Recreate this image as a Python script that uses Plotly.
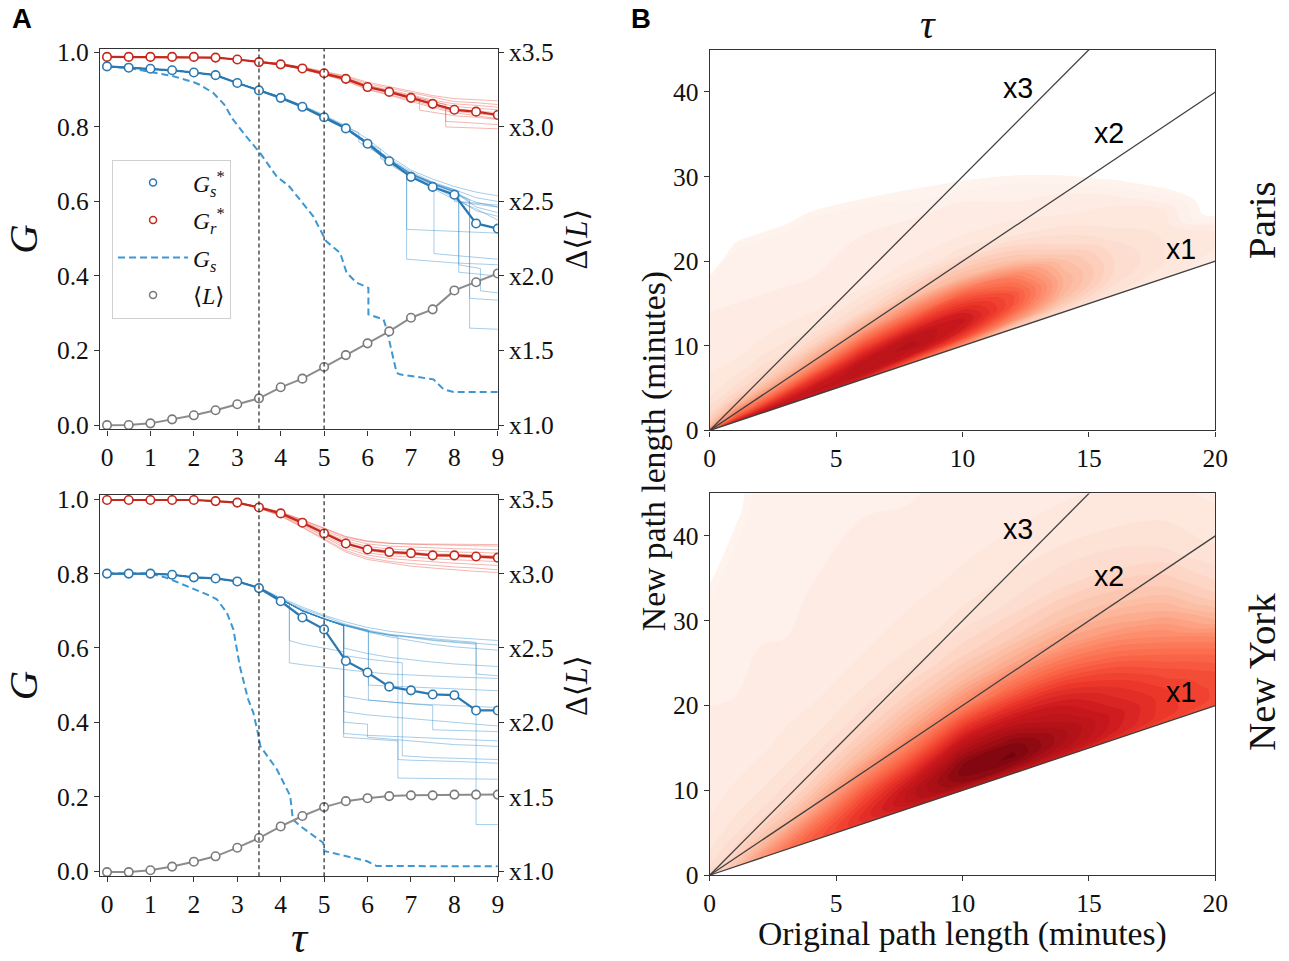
import plotly.graph_objects as go

SERIF = "Liberation Serif, DejaVu Serif, serif"
SANS = "Liberation Sans, Arial, sans-serif"

# ---------------------------------------------------------------- panel A data
TAU = [0, 0.5, 1, 1.5, 2, 2.5, 3, 3.5, 4, 4.5, 5, 5.5, 6, 6.5, 7, 7.5, 8, 8.5, 9]
T = [3, 3.5, 4, 4.5, 5, 5.5, 6, 6.5, 7, 7.5, 8, 8.5, 9]          # tail grid of the runs
TAU_THRESHOLDS = [3.5, 5]
TAU_TICKS = [0, 1, 2, 3, 4, 5, 6, 7, 8, 9]
G_TICKS = [0, 0.2, 0.4, 0.6, 0.8, 1.0]
L_TICKS = [1.0, 1.5, 2.0, 2.5, 3.0, 3.5]
L_TICKTEXT = ["x1.0", "x1.5", "x2.0", "x2.5", "x3.0", "x3.5"]

# Paris (top)
paris_gs_star = [0.9625, 0.959, 0.956, 0.952, 0.946, 0.939, 0.918, 0.898, 0.878, 0.854,
                 0.826, 0.796, 0.755, 0.708, 0.666, 0.639, 0.618, 0.541, 0.527]
paris_gr_star = [0.988, 0.988, 0.988, 0.988, 0.988, 0.986, 0.981, 0.974, 0.968, 0.957,
                 0.944, 0.929, 0.907, 0.894, 0.878, 0.862, 0.846, 0.841, 0.832]
paris_L = [0.999, 1.0, 1.011, 1.038, 1.065, 1.099, 1.139, 1.179, 1.253, 1.311,
           1.389, 1.469, 1.548, 1.628, 1.72, 1.776, 1.903, 1.958, 2.017]
paris_gs_tau = [0, 0.5, 0.76, 1.0, 1.53, 2.0, 2.14, 2.45, 2.7, 2.9, 3.2, 3.52, 3.9, 4.2, 4.45,
                4.75, 5.05, 5.37, 5.52, 5.75, 6.02, 6.02, 6.37, 6.44, 6.67, 6.74, 7.52, 7.75, 7.98, 9.0]
paris_gs = [0.9625, 0.958, 0.953, 0.948, 0.936, 0.92, 0.913, 0.891, 0.86, 0.82, 0.775, 0.731, 0.668,
            0.64, 0.605, 0.56, 0.493, 0.462, 0.408, 0.382, 0.368, 0.297, 0.283, 0.257, 0.14, 0.136,
            0.1225, 0.096, 0.0886, 0.0886]

paris_blue_runs = [
    (T, [0.918, 0.899, 0.881, 0.858, 0.832, 0.803, 0.768, 0.722, 0.684, 0.66, 0.64, 0.625, 0.615]),
    (T, [0.918, 0.898, 0.879, 0.856, 0.829, 0.80, 0.76, 0.715, 0.68, 0.652, 0.632, 0.61, 0.60]),
    (T, [0.918, 0.897, 0.877, 0.853, 0.826, 0.795, 0.752, 0.705, 0.672, 0.645, 0.62, 0.598, 0.585]),
    ([3, 3.5, 4, 4.5, 5, 5.5, 5.8, 5.8, 6.5, 7, 7.5, 8, 8, 9],
     [0.918, 0.899, 0.88, 0.857, 0.83, 0.80, 0.785, 0.76, 0.71, 0.675, 0.65, 0.63, 0.60, 0.585]),
    (T, [0.918, 0.899, 0.88, 0.856, 0.828, 0.798, 0.758, 0.712, 0.676, 0.648, 0.625, 0.585, 0.57]),
    (T, [0.918, 0.898, 0.878, 0.855, 0.827, 0.797, 0.756, 0.708, 0.67, 0.64, 0.61, 0.575, 0.56]),
    (T, [0.918, 0.897, 0.876, 0.852, 0.824, 0.794, 0.753, 0.70, 0.665, 0.635, 0.605, 0.58, 0.55]),
    ([3, 3.5, 4, 4.5, 5, 5.5, 6, 6.3, 6.3, 7, 7.5, 8.1, 8.1, 9],
     [0.918, 0.898, 0.878, 0.854, 0.826, 0.797, 0.757, 0.74, 0.715, 0.672, 0.645, 0.625, 0.60, 0.59]),
    ([3, 3.5, 4, 4.5, 5, 5.5, 6, 6.5, 6.9, 6.9, 7.5, 8, 9],
     [0.918, 0.898, 0.879, 0.855, 0.828, 0.798, 0.758, 0.712, 0.675, 0.445, 0.44, 0.435, 0.43]),
    ([3, 3.5, 4, 4.5, 5, 5.5, 6, 6.5, 7, 7.53, 7.53, 8, 9],
     [0.918, 0.898, 0.879, 0.855, 0.828, 0.798, 0.758, 0.712, 0.674, 0.65, 0.46, 0.455, 0.445]),
    ([3, 3.5, 4, 4.5, 5, 5.5, 6, 6.5, 7, 7.5, 8.1, 8.1, 9],
     [0.918, 0.898, 0.879, 0.855, 0.828, 0.798, 0.758, 0.712, 0.674, 0.648, 0.628, 0.41, 0.40]),
    ([3, 3.5, 4, 4.5, 5, 5.5, 6, 6.5, 7, 7.5, 8, 8.35, 8.35, 9],
     [0.918, 0.898, 0.879, 0.855, 0.828, 0.798, 0.758, 0.712, 0.674, 0.648, 0.626, 0.605, 0.26, 0.257]),
    ([3, 3.5, 4, 4.5, 5, 5.5, 6, 6.5, 7, 7.5, 8, 8.35, 8.35, 9],
     [0.918, 0.898, 0.879, 0.855, 0.828, 0.798, 0.758, 0.712, 0.674, 0.648, 0.626, 0.60, 0.34, 0.335]),
    ([3, 3.5, 4, 4.5, 5, 5.5, 6, 6.5, 7, 7.5, 8.1, 8.1, 8.6, 8.6, 9],
     [0.918, 0.898, 0.879, 0.855, 0.828, 0.798, 0.758, 0.712, 0.674, 0.648, 0.62, 0.43, 0.42, 0.36, 0.355]),
    ([3, 3.5, 4, 4.5, 5, 5.5, 6, 6.5, 6.9, 6.9, 8, 9],
     [0.918, 0.898, 0.879, 0.855, 0.828, 0.798, 0.758, 0.712, 0.675, 0.525, 0.52, 0.515]),
]
paris_red_runs = [
    (T, [0.981, 0.975, 0.97, 0.96, 0.948, 0.935, 0.916, 0.904, 0.89, 0.878, 0.868, 0.865, 0.86]),
    (T, [0.981, 0.975, 0.969, 0.959, 0.946, 0.932, 0.912, 0.90, 0.886, 0.872, 0.862, 0.858, 0.853]),
    (T, [0.981, 0.974, 0.968, 0.958, 0.945, 0.93, 0.909, 0.896, 0.882, 0.868, 0.855, 0.85, 0.846]),
    (T, [0.981, 0.974, 0.967, 0.956, 0.943, 0.927, 0.905, 0.891, 0.876, 0.86, 0.848, 0.843, 0.838]),
    (T, [0.981, 0.973, 0.966, 0.955, 0.941, 0.925, 0.902, 0.888, 0.872, 0.856, 0.842, 0.836, 0.83]),
    (T, [0.981, 0.973, 0.966, 0.954, 0.94, 0.923, 0.90, 0.885, 0.868, 0.852, 0.838, 0.83, 0.822]),
    (T, [0.981, 0.975, 0.97, 0.961, 0.95, 0.937, 0.92, 0.908, 0.895, 0.884, 0.876, 0.873, 0.87]),
    ([3, 3.5, 4, 4.5, 5, 5.5, 6, 6.5, 7, 7.5, 7.8, 7.8, 8.5, 9],
     [0.981, 0.974, 0.968, 0.957, 0.944, 0.929, 0.907, 0.894, 0.878, 0.862, 0.855, 0.815, 0.81, 0.806]),
    ([3, 3.5, 4, 4.5, 5, 5.5, 6, 6.5, 7, 7.5, 7.8, 7.8, 8.5, 9],
     [0.981, 0.975, 0.969, 0.958, 0.946, 0.932, 0.911, 0.898, 0.883, 0.868, 0.86, 0.80, 0.797, 0.795]),
    ([3, 3.5, 4, 4.5, 5, 5.5, 6, 6.5, 7, 7.2, 7.2, 7.5, 8, 8.5, 9],
     [0.981, 0.974, 0.968, 0.957, 0.944, 0.929, 0.907, 0.894, 0.88, 0.875, 0.845, 0.84, 0.83, 0.826, 0.82]),
]

# New York (bottom)
ny_gs_star = [0.80, 0.80, 0.80, 0.797, 0.79, 0.787, 0.779, 0.761, 0.7256, 0.682,
              0.65, 0.565, 0.534, 0.496, 0.486, 0.475, 0.473, 0.432, 0.432]
ny_gr_star = [0.998, 0.998, 0.998, 0.998, 0.998, 0.995, 0.991, 0.978, 0.962, 0.937,
              0.908, 0.881, 0.865, 0.858, 0.855, 0.849, 0.849, 0.846, 0.843]
ny_L = [0.993, 0.993, 1.005, 1.03, 1.063, 1.099, 1.157, 1.222, 1.30, 1.37,
        1.43, 1.47, 1.49, 1.504, 1.509, 1.509, 1.514, 1.514, 1.514]
ny_gs_tau = [0, 0.5, 1.0, 1.37, 1.84, 2.3, 2.53, 2.76, 2.91, 3.06, 3.25, 3.37, 3.49, 3.53, 3.91,
             4.22, 4.28, 4.45, 4.98, 5.0, 5.98, 6.21, 9.0]
ny_gs = [0.80, 0.80, 0.80, 0.789, 0.767, 0.744, 0.731, 0.695, 0.65, 0.55, 0.462, 0.426, 0.363, 0.336,
         0.274, 0.202, 0.139, 0.121, 0.076, 0.054, 0.027, 0.0135, 0.0128]

ny_blue_runs = [
    (T, [0.779, 0.764, 0.735, 0.71, 0.688, 0.67, 0.655, 0.645, 0.638, 0.632, 0.628, 0.624, 0.62]),
    (T, [0.779, 0.763, 0.732, 0.706, 0.684, 0.664, 0.648, 0.637, 0.63, 0.622, 0.617, 0.612, 0.608]),
    (T, [0.779, 0.763, 0.731, 0.703, 0.68, 0.66, 0.643, 0.63, 0.62, 0.61, 0.603, 0.598, 0.594]),
    ([3, 3.5, 4, 4.5, 5, 5.45, 5.45, 6, 6.5, 7, 7.5, 8, 8.5, 9],
     [0.779, 0.762, 0.73, 0.70, 0.678, 0.66, 0.60, 0.585, 0.575, 0.568, 0.562, 0.557, 0.553, 0.55]),
    ([3, 3.5, 4, 4.2, 4.2, 4.5, 5, 5.5, 6, 6.5, 7, 7.5, 8, 8.5, 9],
     [0.779, 0.762, 0.728, 0.72, 0.56, 0.555, 0.548, 0.54, 0.535, 0.53, 0.527, 0.524, 0.522, 0.52, 0.518]),
    ([3, 3.5, 4, 4.5, 5, 5.45, 5.45, 6, 6, 6.5, 7, 7.5, 8, 8.5, 9],
     [0.779, 0.762, 0.73, 0.70, 0.678, 0.66, 0.40, 0.395, 0.36, 0.355, 0.35, 0.345, 0.34, 0.338, 0.335]),
    ([3, 3.5, 4, 4.5, 5, 5.45, 5.45, 5.5, 6, 6.5, 7, 7.5, 8, 8.5, 9],
     [0.779, 0.762, 0.73, 0.70, 0.678, 0.66, 0.43, 0.428, 0.42, 0.415, 0.41, 0.405, 0.40, 0.395, 0.39]),
    ([3, 3.5, 4, 4.5, 5, 5.45, 5.45, 6, 6.7, 6.7, 7, 8, 9],
     [0.779, 0.762, 0.73, 0.70, 0.678, 0.66, 0.36, 0.355, 0.35, 0.30, 0.298, 0.295, 0.29]),
    ([3, 3.5, 4, 4.5, 5, 5.5, 6.02, 6.02, 6.5, 7, 8, 9],
     [0.779, 0.762, 0.73, 0.70, 0.678, 0.662, 0.648, 0.46, 0.455, 0.45, 0.445, 0.44]),
    ([3, 3.5, 4, 4.5, 5, 5.5, 6, 6.5, 6.7, 6.7, 8, 9],
     [0.779, 0.762, 0.73, 0.70, 0.678, 0.66, 0.645, 0.635, 0.63, 0.25, 0.248, 0.247]),
    ([3, 3.5, 4, 4.5, 5, 5.5, 6, 6.5, 7, 7.5, 8, 8.5, 8.5, 9],
     [0.779, 0.762, 0.73, 0.70, 0.678, 0.66, 0.645, 0.635, 0.63, 0.625, 0.62, 0.615, 0.125, 0.125]),
    ([3, 3.5, 4, 4.2, 4.2, 4.5, 5, 5.45, 5.45, 6, 7, 8, 9],
     [0.779, 0.762, 0.728, 0.72, 0.62, 0.61, 0.60, 0.59, 0.37, 0.365, 0.36, 0.355, 0.35]),
    ([3, 3.5, 4, 4.5, 5, 5.5, 6, 6.02, 6.02, 7, 8, 9],
     [0.779, 0.762, 0.73, 0.70, 0.678, 0.66, 0.648, 0.645, 0.50, 0.495, 0.49, 0.485]),
    ([3, 3.5, 4, 4.5, 5, 5.45, 5.45, 6, 6.8, 6.8, 7.5, 9],
     [0.779, 0.762, 0.73, 0.70, 0.678, 0.66, 0.58, 0.57, 0.56, 0.31, 0.305, 0.30]),
    ([3, 3.5, 4, 4.5, 5, 5.5, 6, 6.5, 7, 7.5, 8, 8.5, 8.5, 9],
     [0.779, 0.762, 0.73, 0.70, 0.678, 0.66, 0.645, 0.635, 0.628, 0.62, 0.615, 0.61, 0.53, 0.525]),
    ([3, 3.5, 4, 4.5, 5, 5.45, 5.45, 6, 7, 7.5, 7.5, 9],
     [0.779, 0.762, 0.73, 0.70, 0.678, 0.66, 0.47, 0.46, 0.45, 0.445, 0.38, 0.375]),
]
ny_red_runs = [
    (T, [0.991, 0.98, 0.966, 0.945, 0.922, 0.90, 0.888, 0.882, 0.879, 0.877, 0.876, 0.875, 0.874]),
    (T, [0.991, 0.979, 0.964, 0.942, 0.916, 0.894, 0.88, 0.874, 0.871, 0.868, 0.867, 0.866, 0.864]),
    (T, [0.991, 0.979, 0.963, 0.94, 0.912, 0.888, 0.873, 0.866, 0.863, 0.86, 0.858, 0.857, 0.855]),
    (T, [0.991, 0.978, 0.961, 0.936, 0.906, 0.879, 0.862, 0.854, 0.851, 0.847, 0.845, 0.843, 0.84]),
    (T, [0.991, 0.977, 0.96, 0.933, 0.902, 0.874, 0.856, 0.848, 0.844, 0.84, 0.837, 0.835, 0.832]),
    (T, [0.991, 0.977, 0.958, 0.93, 0.898, 0.868, 0.85, 0.841, 0.836, 0.831, 0.828, 0.825, 0.822]),
    (T, [0.991, 0.976, 0.956, 0.926, 0.893, 0.862, 0.843, 0.833, 0.827, 0.822, 0.818, 0.815, 0.81]),
    (T, [0.991, 0.976, 0.955, 0.924, 0.89, 0.858, 0.838, 0.828, 0.82, 0.815, 0.81, 0.806, 0.803]),
    (T, [0.991, 0.98, 0.965, 0.944, 0.92, 0.898, 0.886, 0.881, 0.88, 0.879, 0.879, 0.878, 0.878]),
    (T, [0.991, 0.978, 0.962, 0.938, 0.91, 0.884, 0.868, 0.861, 0.857, 0.853, 0.852, 0.85, 0.848]),
]

# ---------------------------------------------------------------- panel B data
# density level (0 = no trips), tabulated by original
# length (one list per length) and by extra minutes over the original length
LEN_TICKS = [0, 5, 10, 15, 20]
NEW_TICKS = [0, 10, 20, 30, 40]
RATIOS = [1, 2, 3]
RATIO_LABELS = ["x1", "x2", "x3"]
paris_label_x = [18.65, 15.8, 12.2]
paris_label_y = [21.4, 35.2, 40.5]
ny_label_x = [18.65, 15.8, 12.2]
ny_label_y = [21.6, 35.3, 40.8]

paris_len = [0, 1, 2, 3, 4, 6, 8, 10, 12, 14, 16, 18, 20]
paris_extra = [0, 0.5, 1, 2, 3, 4, 6, 8, 11, 14, 17, 20, 23]
paris_density = [
    [5.0, 3.0, 2.5, 2.0, 1.7, 1.5, 1.3, 1.15, 1.05, 1.0, 0.9, 0.0, 0.0],
    [7.0, 5.5, 4.5, 3.0, 2.2, 1.8, 1.4, 1.2, 1.05, 1.0, 1.0, 0.8, 0.0],
    [7.5, 6.5, 5.5, 4.0, 2.9, 2.2, 1.6, 1.3, 1.1, 1.0, 1.0, 0.9, 0.0],
    [7.5, 7.0, 6.5, 5.0, 3.7, 2.8, 1.8, 1.4, 1.1, 1.0, 1.0, 0.9, 0.0],
    [7.0, 7.3, 7.0, 6.0, 4.7, 3.6, 2.2, 1.5, 1.1, 1.0, 1.0, 1.0, 0.2],
    [6.5, 7.2, 7.5, 7.3, 6.5, 5.5, 3.4, 2.0, 1.2, 1.05, 1.0, 0.9, 0.0],
    [5.0, 6.0, 7.0, 7.6, 7.4, 6.5, 4.5, 2.7, 1.4, 1.05, 1.0, 0.6, 0.0],
    [3.8, 4.8, 5.8, 6.8, 7.1, 6.7, 5.2, 3.1, 1.6, 1.1, 1.0, 0.4, 0.0],
    [2.5, 3.0, 4.0, 5.0, 5.5, 5.5, 4.5, 2.8, 1.5, 1.1, 0.8, 0.0, 0.0],
    [1.9, 2.1, 2.5, 3.0, 3.2, 3.2, 2.8, 2.0, 1.3, 1.0, 0.3, 0.0, 0.0],
    [1.5, 1.6, 1.7, 1.9, 2.0, 2.0, 1.8, 1.5, 1.2, 0.4, 0.0, 0.0, 0.0],
    [1.3, 1.3, 1.4, 1.5, 1.5, 1.5, 1.4, 1.25, 0.4, 0.0, 0.0, 0.0, 0.0],
    [1.2, 1.2, 1.2, 1.3, 1.3, 1.2, 0.2, 0.0, 0.0, 0.0, 0.0, 0.0, 0.0],
]

ny_len = [0, 1, 2, 3, 4, 6, 8, 10, 12, 14, 16, 18, 20]
ny_extra = [0, 0.5, 1, 2, 3, 4, 6, 8, 10, 13, 16, 20, 25, 30, 36, 42, 48]
ny_density = [
    [2.0, 2.0, 1.8, 1.6, 1.5, 1.4, 1.3, 1.2, 1.15, 1.1, 1.05, 1.0, 1.0, 1.0, 0.3, 0.0, 0.0],
    [2.8, 2.6, 2.4, 2.1, 1.9, 1.7, 1.5, 1.35, 1.25, 1.15, 1.1, 1.0, 1.0, 1.0, 0.9, 0.3, 0.0],
    [3.8, 3.6, 3.3, 2.8, 2.4, 2.1, 1.7, 1.5, 1.35, 1.2, 1.1, 1.05, 1.0, 1.0, 1.0, 1.0, 1.0],
    [4.7, 4.5, 4.2, 3.6, 3.0, 2.6, 2.0, 1.7, 1.5, 1.3, 1.2, 1.1, 1.0, 1.0, 1.0, 1.0, 1.0],
    [5.3, 5.2, 5.0, 4.5, 3.9, 3.3, 2.5, 2.0, 1.7, 1.4, 1.25, 1.1, 1.05, 1.0, 1.0, 1.0, 1.0],
    [6.2, 6.3, 6.3, 6.0, 5.6, 5.1, 4.0, 3.0, 2.4, 1.8, 1.5, 1.25, 1.1, 1.05, 1.0, 1.0, 1.0],
    [6.8, 7.2, 7.4, 7.4, 7.0, 6.5, 5.3, 4.2, 3.3, 2.4, 1.8, 1.4, 1.2, 1.1, 1.0, 1.0, 1.0],
    [7.0, 7.8, 8.3, 8.6, 8.5, 8.1, 7.0, 5.7, 4.3, 3.0, 2.2, 1.6, 1.3, 1.15, 1.05, 1.0, 1.0],
    [7.0, 7.8, 8.3, 8.8, 8.7, 8.3, 7.3, 6.2, 5.0, 3.5, 2.5, 1.8, 1.4, 1.2, 1.1, 1.0, 1.0],
    [6.8, 7.3, 7.6, 7.8, 7.8, 7.5, 7.0, 6.2, 5.2, 3.8, 2.8, 2.0, 1.5, 1.25, 1.1, 1.0, 1.0],
    [6.3, 6.6, 6.8, 6.9, 6.9, 6.7, 6.3, 5.7, 4.9, 3.7, 2.8, 2.0, 1.5, 1.25, 1.1, 1.0, 1.0],
    [5.8, 6.0, 6.1, 6.1, 6.1, 6.0, 5.6, 5.0, 4.3, 3.3, 2.5, 1.8, 1.4, 1.2, 1.1, 1.0, 1.0],
    [5.5, 5.6, 5.7, 5.7, 5.6, 5.5, 5.0, 4.3, 3.3, 2.3, 1.8, 1.4, 1.2, 1.1, 1.05, 1.0, 1.0],
]

# ---------------------------------------------------------------- styles
BLUE = "#2c78b0"
BLUE_DASH = "#3d97d3"
BLUE_RUN = "rgba(45,135,200,0.42)"
RED = "#c3291d"
RED_RUN = "rgba(228,62,50,0.38)"
GREY = "#8c8c8c"
AX = "#333333"

C_START, C_END, C_SIZE = 0.5, 9.0, 0.25
C_LO, C_HI = C_START - C_SIZE / 2, C_END + C_SIZE / 2
DENS_LEVELS = [C_LO, 0.5, 0.6, 1, 2, 3, 4, 5, 6, 7, 8, C_HI]
DENS_COLORS = ["#ffffff", "#ffffff", "rgb(254,243,237)", "rgb(254,239,232)", "rgb(253,218,203)",
               "rgb(252,187,161)", "rgb(252,146,114)", "rgb(251,106,74)", "rgb(239,59,44)",
               "rgb(203,24,29)", "rgb(165,15,21)", "rgb(103,0,13)"]
COLORSCALE = [[(lv - C_LO) / (C_HI - C_LO), c] for lv, c in zip(DENS_LEVELS, DENS_COLORS)]

# page geometry: figure inside the body's 8px margin; the capture comes out
# slightly shrunk, so target pixel positions are mapped back to figure space
W, H, PAD = 1300, 980, 8
SX, SY, OX, OY = 0.986, 0.975, -2.0, 2.5
FS = 1.02   # font compensation for the shrink


def fx(px):
    return ((px - OX) / SX - PAD) / W


def fy(py):
    return 1 - ((py - OY) / SY - PAD) / H


def fs(size):
    return round(size * FS, 1)


fig = go.Figure()

# ---------------------------------------------------------------- panel B traces
hidden_carpet_axis = dict(showgrid=False, showline=False, showticklabels="none", startline=False,
                          endline=False, minorgridcount=0, smoothing=0,
                          color="rgba(0,0,0,0)", gridcolor="rgba(0,0,0,0)")


def add_density(lengths, extras, density, cid, xa, ya):
    a_f, b_f, x_f, y_f, z_f = [], [], [], [], []
    for j, e in enumerate(extras):
        for i, ln in enumerate(lengths):
            a_f.append(ln)
            b_f.append(e)
            x_f.append(ln)
            y_f.append(ln + e)
            z_f.append(density[i][j])
    fig.add_trace(go.Carpet(a=a_f, b=b_f, x=x_f, y=y_f, carpet=cid, xaxis=xa, yaxis=ya,
                            aaxis=hidden_carpet_axis, baxis=hidden_carpet_axis))
    fig.add_trace(go.Contourcarpet(a=a_f, b=b_f, z=z_f, carpet=cid, xaxis=xa, yaxis=ya,
                                   autocontour=False,
                                   contours=dict(start=C_START, end=C_END, size=C_SIZE,
                                                 coloring="fill", showlines=False),
                                   line=dict(width=0), colorscale=COLORSCALE,
                                   showscale=False))


add_density(paris_len, paris_extra, paris_density, "paris", "x3", "y5")
add_density(ny_len, ny_extra, ny_density, "ny", "x4", "y6")

for xa, ya in [("x3", "y5"), ("x4", "y6")]:
    for k in RATIOS:
        fig.add_trace(go.Scatter(x=[0, LEN_TICKS[-1]], y=[0, k * LEN_TICKS[-1]], mode="lines",
                                 line=dict(color="#404040", width=1.3), xaxis=xa, yaxis=ya,
                                 showlegend=False, hoverinfo="skip"))

# ---------------------------------------------------------------- panel A traces
def add_left(xa, ya, ya2, gs_star, gr_star, L, gs_tau, gs, blue_runs, red_runs):
    for t, g in blue_runs:
        fig.add_trace(go.Scatter(x=TAU[:6] + list(t), y=gs_star[:6] + list(g), mode="lines",
                                 line=dict(color=BLUE_RUN, width=1), xaxis=xa, yaxis=ya,
                                 showlegend=False, hoverinfo="skip"))
    for t, g in red_runs:
        fig.add_trace(go.Scatter(x=TAU[:6] + list(t), y=gr_star[:6] + list(g), mode="lines",
                                 line=dict(color=RED_RUN, width=1), xaxis=xa, yaxis=ya,
                                 showlegend=False, hoverinfo="skip"))
    fig.add_trace(go.Scatter(x=gs_tau, y=gs, mode="lines",
                             line=dict(color=BLUE_DASH, width=2, dash="7px,4px"),
                             xaxis=xa, yaxis=ya, showlegend=False))
    fig.add_trace(go.Scatter(x=TAU, y=gs_star, mode="lines+markers",
                             line=dict(color=BLUE, width=2.2),
                             marker=dict(size=8.5, color="white", line=dict(color=BLUE, width=1.6)),
                             xaxis=xa, yaxis=ya, showlegend=False))
    fig.add_trace(go.Scatter(x=TAU, y=gr_star, mode="lines+markers",
                             line=dict(color=RED, width=2.2),
                             marker=dict(size=8.5, color="white", line=dict(color=RED, width=1.6)),
                             xaxis=xa, yaxis=ya, showlegend=False))
    fig.add_trace(go.Scatter(x=TAU, y=L, mode="lines+markers",
                             line=dict(color=GREY, width=2),
                             marker=dict(size=8.5, color="white", line=dict(color="#7a7a7a", width=1.6)),
                             xaxis=xa, yaxis=ya2, showlegend=False))


add_left("x", "y", "y2", paris_gs_star, paris_gr_star, paris_L, paris_gs_tau, paris_gs,
         paris_blue_runs, paris_red_runs)
add_left("x2", "y3", "y4", ny_gs_star, ny_gr_star, ny_L, ny_gs_tau, ny_gs,
         ny_blue_runs, ny_red_runs)

# legend entries
fig.add_trace(go.Scatter(x=[None], y=[None], mode="markers", name="<i>G</i><sub><i>s</i></sub><sup>*</sup>",
                         legendgroup="a",
                         marker=dict(size=7, color="white", line=dict(color=BLUE, width=1.5)),
                         xaxis="x", yaxis="y"))
fig.add_trace(go.Scatter(x=[None], y=[None], mode="markers", name="<i>G</i><sub><i>r</i></sub><sup>*</sup>",
                         legendgroup="b",
                         marker=dict(size=7, color="white", line=dict(color=RED, width=1.5)),
                         xaxis="x", yaxis="y"))
fig.add_trace(go.Scatter(x=[None], y=[None], mode="lines", name="<i>G</i><sub><i>s</i></sub>",
                         legendgroup="c",
                         line=dict(color=BLUE_DASH, width=2, dash="7px,4px"),
                         xaxis="x", yaxis="y"))
fig.add_trace(go.Scatter(x=[None], y=[None], mode="markers", name="⟨<i>L</i>⟩",
                         legendgroup="d",
                         marker=dict(size=7, color="white", line=dict(color="#7a7a7a", width=1.5)),
                         xaxis="x", yaxis="y"))

# threshold lines
shapes = []
for xr, yr in [("x", "y"), ("x2", "y3")]:
    for tv in TAU_THRESHOLDS:
        shapes.append(dict(type="line", xref=xr, yref=yr + " domain", x0=tv, x1=tv, y0=0, y1=1,
                           line=dict(color="#222222", width=1.2, dash="4px,3px"), layer="above"))

# ---------------------------------------------------------------- layout
tickfont = dict(family=SERIF, size=fs(25), color="#111111")
base = dict(showline=True, linecolor=AX, linewidth=1.2, ticks="outside", ticklen=5, tickwidth=1.2,
            tickcolor=AX, showgrid=False, zeroline=False, tickfont=tickfont)

LX = [fx(100), fx(498)]
RX = [fx(710), fx(1216)]
TL = [fy(430), fy(49)]
BL = [fy(877), fy(495.5)]
TR = [fy(431), fy(50)]
BR = [fy(876), fy(494)]

g_title = dict(text="<i>G</i>", font=dict(family=SERIF, size=fs(40), color="#111"), standoff=6)
l_title = dict(text="Δ⟨<i>L</i>⟩", font=dict(family=SERIF, size=fs(30), color="#111"), standoff=12)

layout = dict(
    width=W, height=H, margin=dict(l=0, r=0, t=0, b=0),
    paper_bgcolor="white", plot_bgcolor="white",
    showlegend=True,
    legend=dict(x=fx(112), y=fy(160), xanchor="left", yanchor="top", bgcolor="white",
                bordercolor="#d0d0d0", borderwidth=1, tracegroupgap=4, traceorder="grouped",
                font=dict(family=SERIF, size=fs(23), color="#111"), itemwidth=70),
    xaxis=dict(base, domain=LX, anchor="y", range=[-0.16, 9], tickvals=TAU_TICKS, mirror=True),
    yaxis=dict(base, domain=TL, anchor="x", range=[-0.012, 1.01], tickvals=G_TICKS,
               tickformat=".1f", title=g_title),
    yaxis2=dict(base, overlaying="y", anchor="x", side="right", range=[0.97, 3.525],
                tickvals=L_TICKS, ticktext=L_TICKTEXT, title=l_title),
    xaxis2=dict(base, domain=LX, anchor="y3", range=[-0.16, 9], tickvals=TAU_TICKS, mirror=True,
                title=dict(text="<i>τ</i>", font=dict(family=SERIF, size=fs(44), color="#111"), standoff=2)),
    yaxis3=dict(base, domain=BL, anchor="x2", range=[-0.014, 1.0116], tickvals=G_TICKS,
                tickformat=".1f", title=g_title),
    yaxis4=dict(base, overlaying="y3", anchor="x2", side="right", range=[0.965, 3.529],
                tickvals=L_TICKS, ticktext=L_TICKTEXT, title=l_title),
    xaxis3=dict(base, domain=RX, anchor="y5", range=[0, 20], tickvals=LEN_TICKS, mirror=True),
    yaxis5=dict(base, domain=TR, anchor="x3", range=[0, 45], tickvals=NEW_TICKS, mirror=True),
    xaxis4=dict(base, domain=RX, anchor="y6", range=[0, 20], tickvals=LEN_TICKS, mirror=True),
    yaxis6=dict(base, domain=BR, anchor="x4", range=[0, 45], tickvals=NEW_TICKS, mirror=True),
    shapes=shapes,
)
fig.update_layout(**layout)

ann = []
for lab, lx, ly in zip(RATIO_LABELS, paris_label_x, paris_label_y):
    ann.append(dict(x=lx, y=ly, xref="x3", yref="y5", text=lab, showarrow=False,
                    xanchor="center", yanchor="middle",
                    font=dict(family=SANS, size=fs(28), color="#000")))
for lab, lx, ly in zip(RATIO_LABELS, ny_label_x, ny_label_y):
    ann.append(dict(x=lx, y=ly, xref="x4", yref="y6", text=lab, showarrow=False,
                    xanchor="center", yanchor="middle",
                    font=dict(family=SANS, size=fs(28), color="#000")))


def paper_text(px, py, text, font, angle=0):
    return dict(x=fx(px), y=fy(py), xref="paper", yref="paper", text=text, showarrow=False,
                xanchor="center", yanchor="middle", textangle=angle, font=font)


ann += [
    paper_text(22, 19, "<b>A</b>", dict(family=SANS, size=fs(27), color="#000")),
    paper_text(641, 19, "<b>B</b>", dict(family=SANS, size=fs(27), color="#000")),
    paper_text(928, 25, "<i>τ</i>", dict(family=SERIF, size=fs(40), color="#111")),
    paper_text(655, 452, "New path length (minutes)", dict(family=SERIF, size=fs(33), color="#111"), -90),
    paper_text(963, 935, "Original path length (minutes)", dict(family=SERIF, size=fs(33), color="#111")),
    paper_text(1262, 220, "Paris", dict(family=SERIF, size=fs(38), color="#111"), -90),
    paper_text(1262, 672, "New York", dict(family=SERIF, size=fs(38), color="#111"), -90),
]
fig.update_layout(annotations=ann)

fig.write_html("out.html")
